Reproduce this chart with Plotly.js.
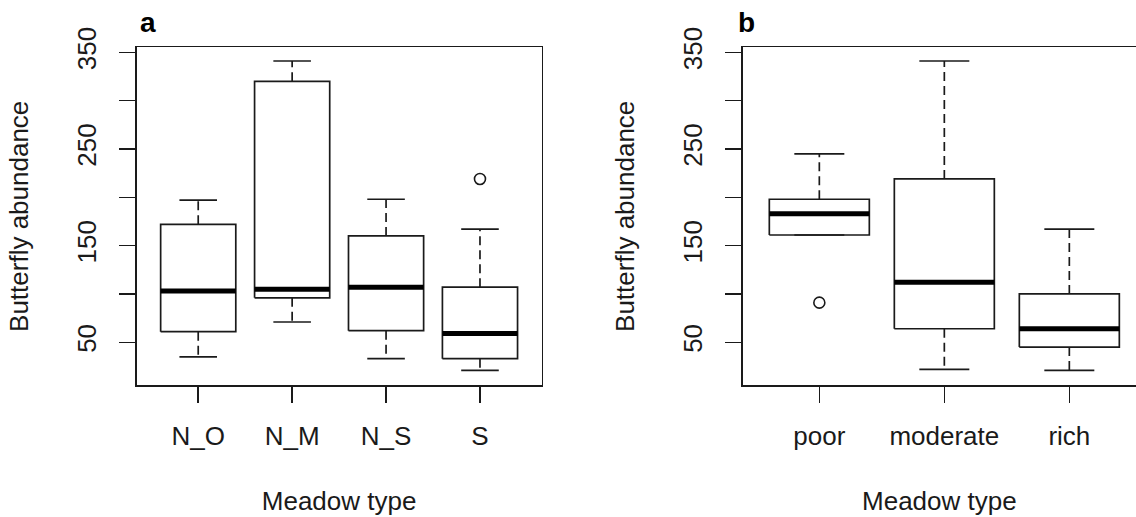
<!DOCTYPE html>
<html>
<head>
<meta charset="utf-8">
<script src="https://cdn.plot.ly/plotly-3.0.1.min.js"></script>
<style>
  html, body { margin: 0; padding: 0; background: #ffffff; }
  #chart { width: 1136px; height: 517px; }
</style>
</head>
<body>
<div id="chart"></div>
<script>
// ---------- Panel a : Meadow type ----------
const catsA = ['N_O', 'N_M', 'N_S', 'S'];
const lowA  = [35, 71, 33, 21];      // lower whisker ends
const q1A   = [61, 96, 62, 33];
const medA  = [103, 105, 107, 59];
const q3A   = [172, 320, 160, 107];
const highA = [197, 341, 198, 167];  // upper whisker ends
const outA  = [[], [], [], [219]];

// ---------- Panel b : flower richness ----------
const catsB = ['poor', 'moderate', 'rich'];
const lowB  = [161, 22, 21];
const q1B   = [161, 64, 45];
const medB  = [183, 112, 64];
const q3B   = [198, 219, 100];
const highB = [245, 341, 167];
const outB  = [[91], [], []];

// y-axis ticks
const yTickVals = [50, 100, 150, 200, 250, 300, 350];
const yTickText = ['50', '', '150', '', '250', '', '350'];

const INK = '#1a1a1a';
const FONT = '"Liberation Sans", Arial, sans-serif';
const BOXW = 0.4;   // half box width (boxwex 0.8)
const CAPW = 0.2;   // half staple width

function boxTraces(low, q1, med, q3, high, outs, xa, ya) {
  const bx = [], by = [], mx = [], my = [], wx = [], wy = [], cx = [], cy = [], ox = [], oy = [];
  for (let i = 0; i < q1.length; i++) {
    const c = i + 1;
    bx.push(c - BOXW, c + BOXW, c + BOXW, c - BOXW, c - BOXW, null);
    by.push(q1[i], q1[i], q3[i], q3[i], q1[i], null);
    mx.push(c - BOXW, c + BOXW, null);
    my.push(med[i], med[i], null);
    if (high[i] > q3[i]) { wx.push(c, c, null); wy.push(q3[i], high[i], null); }
    if (low[i] < q1[i])  { wx.push(c, c, null); wy.push(q1[i], low[i], null); }
    cx.push(c - CAPW, c + CAPW, null, c - CAPW, c + CAPW, null);
    cy.push(high[i], high[i], null, low[i], low[i], null);
    outs[i].forEach(v => { ox.push(c); oy.push(v); });
  }
  const base = { type: 'scatter', mode: 'lines', xaxis: xa, yaxis: ya, hoverinfo: 'skip', showlegend: false };
  return [
    Object.assign({}, base, { x: wx, y: wy, line: { color: INK, width: 1.7, dash: '9px,5px' } }),
    Object.assign({}, base, { x: cx, y: cy, line: { color: INK, width: 1.7 } }),
    Object.assign({}, base, { x: bx, y: by, line: { color: INK, width: 1.7 } }),
    Object.assign({}, base, { x: mx, y: my, line: { color: '#000', width: 5 } }),
    { type: 'scatter', mode: 'markers', x: ox, y: oy, xaxis: xa, yaxis: ya, hoverinfo: 'skip', showlegend: false,
      marker: { symbol: 'circle-open', size: 11, color: INK, line: { width: 1.6, color: INK } } }
  ];
}

const data = [].concat(
  boxTraces(lowA, q1A, medA, q3A, highA, outA, 'x', 'y'),
  boxTraces(lowB, q1B, medB, q3B, highB, outB, 'x2', 'y2')
);

const W = 1136, H = 517;
const plotTop = 47.3, plotBottom = 385.3;
const yDom = [1 - plotBottom / H, 1 - plotTop / H];
const yRange = [5.5, 355.2];

function xAxis(domain, range, cats, anchor, mirror) {
  return {
    domain: domain, range: range, anchor: anchor,
    tickmode: 'array', tickvals: cats.map((c, i) => i + 1), ticktext: cats,
    ticks: 'outside', ticklen: 16, tickwidth: 1.5, tickcolor: INK,
    ticklabelstandoff: 11,
    showline: true, linecolor: INK, linewidth: 1.5, mirror: mirror,
    showgrid: false, zeroline: false,
    tickfont: { family: FONT, size: 26, color: INK },
    title: { text: 'Meadow type', font: { family: FONT, size: 26, color: INK }, standoff: 42 }
  };
}
function yAxis(domain, anchor, mirror) {
  return {
    domain: domain, range: yRange, anchor: anchor,
    tickmode: 'array', tickvals: yTickVals, ticktext: yTickText, tickangle: -90,
    ticks: 'outside', ticklen: 16, tickwidth: 1.5, tickcolor: INK,
    ticklabelstandoff: 13,
    showline: true, linecolor: INK, linewidth: 1.5, mirror: mirror,
    showgrid: false, zeroline: false,
    tickfont: { family: FONT, size: 26, color: INK },
    title: { text: 'Butterfly abundance', font: { family: FONT, size: 26, color: INK }, standoff: 35 }
  };
}

const layout = {
  width: W, height: H,
  margin: { l: 0, r: 0, t: 0, b: 0, pad: 0 },
  paper_bgcolor: '#ffffff', plot_bgcolor: '#ffffff',
  showlegend: false,
  xaxis:  xAxis([136.7 / W, 541.5 / W], [0.345, 4.655], catsA, 'y', true),
  yaxis:  yAxis(yDom, 'x', true),
  xaxis2: xAxis([742.7 / W, 1], [0.387, 0.387 + (W - 742.7) / 125], catsB, 'y2', true),
  yaxis2: yAxis(yDom, 'x2', false),
  annotations: [
    { text: '<b>a</b>', xref: 'paper', yref: 'paper', x: 138 / W, y: 1 - 23 / H, xanchor: 'left', yanchor: 'middle',
      showarrow: false, font: { family: FONT, size: 28, color: '#000' } },
    { text: '<b>b</b>', xref: 'paper', yref: 'paper', x: 736 / W, y: 1 - 23 / H, xanchor: 'left', yanchor: 'middle',
      showarrow: false, font: { family: FONT, size: 28, color: '#000' } }
  ]
};

Plotly.newPlot('chart', data, layout, { staticPlot: true, displayModeBar: false });
</script>
</body>
</html>
